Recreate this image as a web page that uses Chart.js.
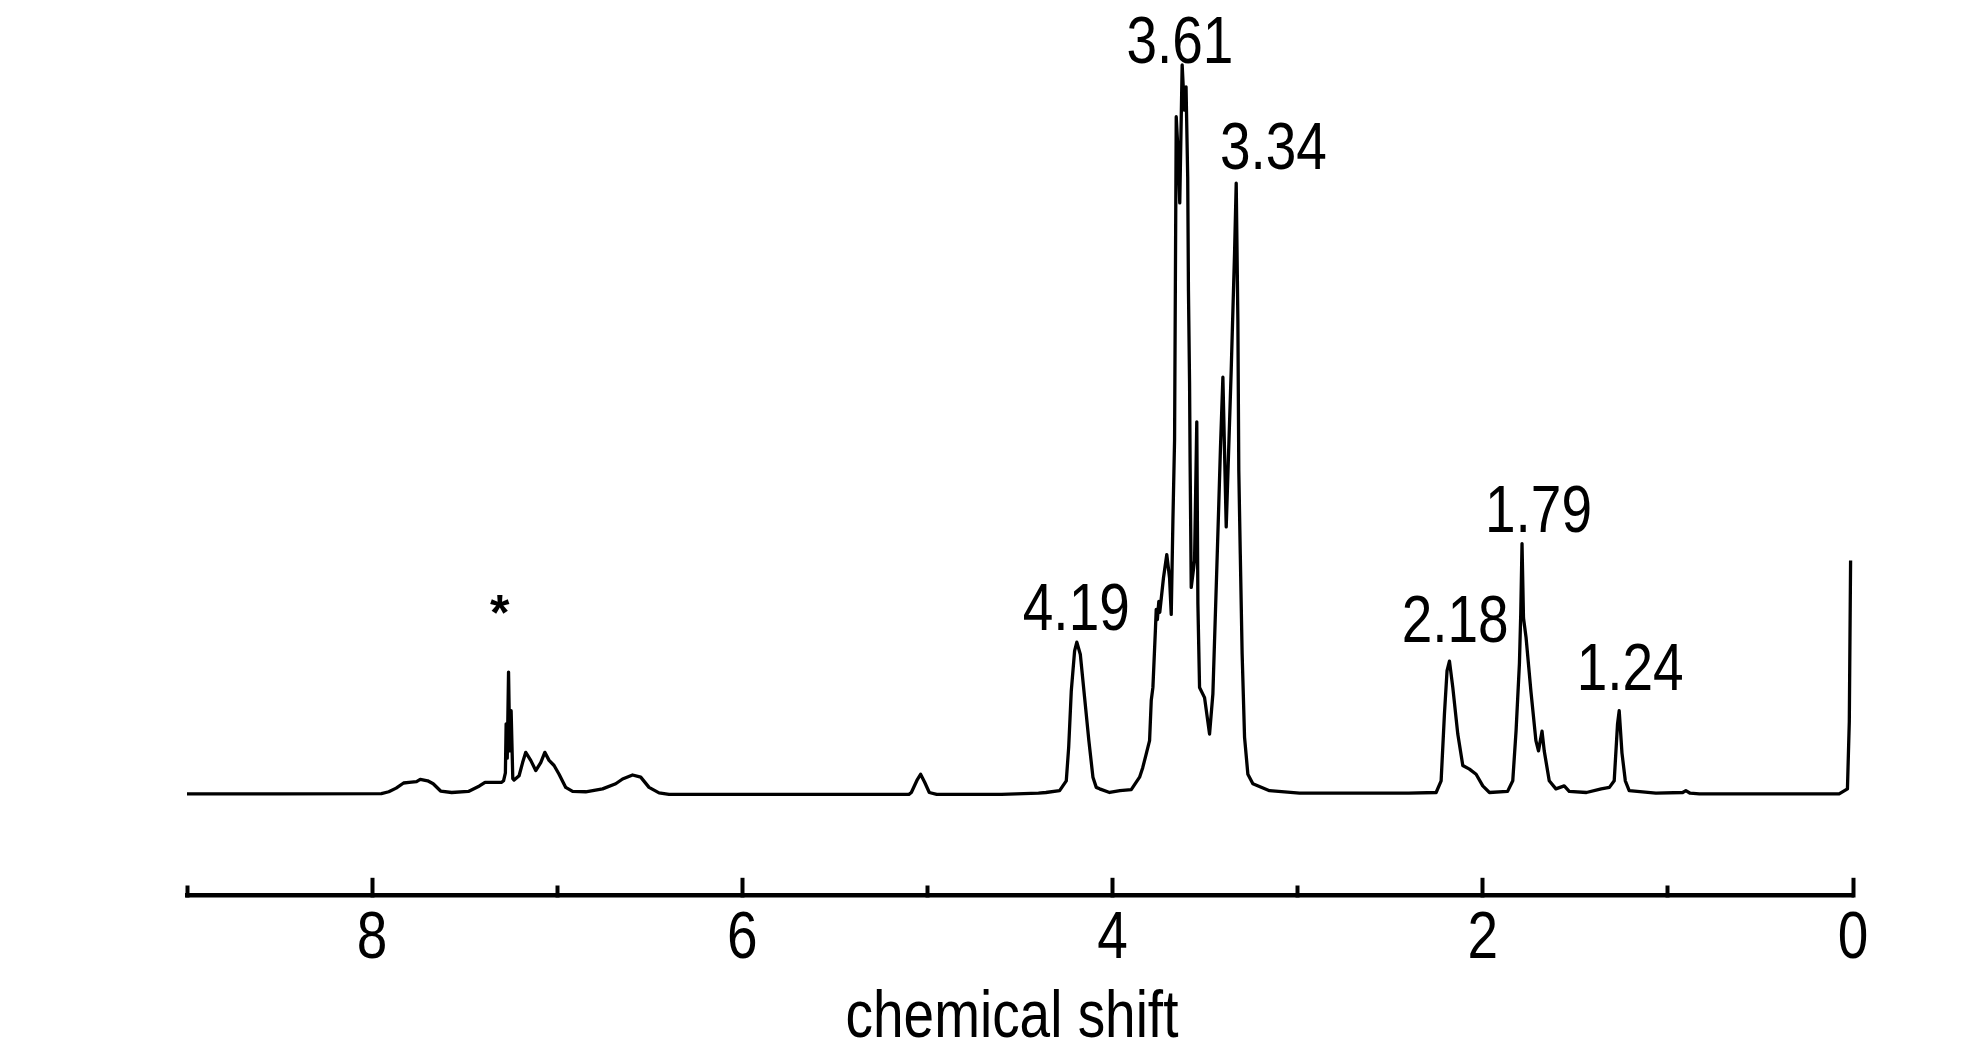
<!DOCTYPE html>
<html>
<head>
<meta charset="utf-8">
<title>1H NMR spectrum</title>
<script src="https://cdn.jsdelivr.net/npm/chart.js@4.4.1/dist/chart.umd.min.js"></script>
<style>
  html, body { margin: 0; padding: 0; background: #fff; }
  #wrap { width: 1984px; height: 1063px; position: relative; }
</style>
</head>
<body>
<div id="wrap"><canvas id="nmrChart"></canvas></div>
<script>
// chemical shift (ppm), left to right as drawn (x axis is reversed)
const shiftPpm = [
  9.00, 8.50, 7.95, 7.91, 7.87, 7.83, 7.80, 7.76, 7.74, 7.70, 7.67, 7.63, 7.57, 7.48, 7.42, 7.39, 7.30,
  7.290, 7.280, 7.276, 7.270, 7.263, 7.256, 7.249, 7.240, 7.233, 7.206, 7.187, 7.170, 7.143, 7.116,
  7.089, 7.067, 7.044, 7.017, 6.990, 6.954, 6.917, 6.846, 6.755, 6.684, 6.647, 6.593, 6.549, 6.504,
  6.450, 6.396, 6.00, 5.50, 5.10,
  5.087, 5.057, 5.037, 5.015, 4.990, 4.95, 4.60, 4.40, 4.36,
  4.286, 4.250, 4.237, 4.223, 4.205, 4.193, 4.174, 4.151, 4.128, 4.106, 4.088, 4.070, 4.016,
  3.960, 3.899, 3.854, 3.837, 3.818, 3.800, 3.791, 3.782, 3.768, 3.764, 3.758, 3.750, 3.745,
  3.725, 3.707, 3.692, 3.683, 3.674, 3.665, 3.656, 3.644, 3.637, 3.624, 3.612, 3.603, 3.594,
  3.590, 3.584, 3.581, 3.575, 3.557, 3.545, 3.539, 3.530, 3.503, 3.476, 3.458, 3.440, 3.426,
  3.417, 3.404, 3.386, 3.359, 3.341, 3.332, 3.323, 3.318, 3.310, 3.300, 3.287, 3.269, 3.242,
  3.152, 2.990, 2.70, 2.40, 2.252, 2.225, 2.207, 2.193, 2.180, 2.162, 2.135, 2.108, 2.072,
  2.036, 2.000, 1.964, 1.866, 1.838, 1.820, 1.802, 1.795, 1.788, 1.780, 1.766, 1.740, 1.713,
  1.699, 1.680, 1.668, 1.641, 1.605, 1.560, 1.533, 1.440, 1.360, 1.316, 1.290, 1.272, 1.263,
  1.248, 1.230, 1.209, 1.065, 0.920, 0.903, 0.880, 0.830, 0.075, 0.030, 0.020, 0.013
];
const intensity = [
  0.1, 0.1, 0.15, 0.4, 0.9, 1.6, 1.7, 1.8, 2.1, 1.9, 1.5, 0.5, 0.3, 0.45, 1.2, 1.7, 1.7,
  1.9, 3.0, 9.7, 5.0, 16.8, 6.0, 11.5, 2.2, 2.0, 2.6, 4.4, 5.8, 4.7, 3.3,
  4.4, 5.8, 4.7, 4.0, 2.8, 1.0, 0.45, 0.4, 0.8, 1.5, 2.15, 2.7, 2.4, 1.0,
  0.25, 0.05, 0.05, 0.05, 0.05,
  0.3, 1.95, 2.8, 1.7, 0.3, 0.05, 0.05, 0.2, 0.3,
  0.55, 1.9, 6.5, 14.2, 19.7, 20.9, 19.2, 13.3, 7.4, 2.4, 1.0, 0.8, 0.3,
  0.55, 0.7, 2.4, 3.7, 5.6, 7.4, 12.9, 14.7, 22.9, 25.4, 24.0, 26.5, 25.0,
  29.7, 32.9, 29.7, 24.7, 37.5, 48.6, 92.9, 87.0, 81.1, 100.0, 93.8, 97.0, 84.6,
  69.1, 56.4, 45.4, 28.4, 32.1, 51.1, 26.2, 14.7, 13.3, 8.3, 13.8, 28.4, 39.9,
  47.6, 57.2, 36.7, 58.2, 74.2, 83.8, 65.0, 44.4, 33.0, 19.3, 7.9, 2.8, 1.5,
  0.55, 0.2, 0.2, 0.2, 0.3, 1.9, 11.1, 17.0, 18.3, 14.7, 8.3, 4.0, 3.5,
  2.8, 1.2, 0.3, 0.45, 1.9, 8.8, 18.0, 24.7, 34.4, 24.2, 21.5, 14.2, 7.4,
  6.0, 8.7, 6.0, 1.9, 0.8, 1.2, 0.45, 0.3, 0.8, 1.0, 1.9, 9.7, 11.5,
  5.7, 1.9, 0.55, 0.2, 0.3, 0.55, 0.2, 0.1, 0.1, 0.8, 10.0, 32.1
];

// peak annotations, anchored at (ppm, intensity) = text baseline centre
const peakLabels = ['*', '4.19', '3.61', '3.34', '2.18', '1.79', '1.24'];
const peakLabelPpm = [7.310, 4.196, 3.636, 3.131, 2.149, 1.699, 1.204];
const peakLabelHeight = [22.6, 22.5, 100.2, 85.7, 20.9, 36.0, 14.4];

const majorTickValues = [0, 2, 4, 6, 8];
const axisTitle = 'chemical shift';

// the original lettering is a narrow sans; no narrow face is installed, so squeeze Liberation Sans
const FONT = "'Liberation Sans', Arial, sans-serif";
const TEXT_FONT = '67px ' + FONT;
const SQUEEZE = 0.82;

function drawNarrow(ctx, text, x, y) {
  ctx.save();
  ctx.translate(x, y);
  ctx.scale(SQUEEZE, 1);
  ctx.fillText(text, 0, 0);
  ctx.restore();
}

const textPlugin = {
  id: 'nmrText',
  afterDraw(chart) {
    const { ctx, chartArea, scales: { x, y } } = chart;
    ctx.save();
    ctx.fillStyle = '#000';
    ctx.textAlign = 'center';
    ctx.textBaseline = 'alphabetic';

    // peak labels
    peakLabels.forEach((txt, i) => {
      const px = x.getPixelForValue(peakLabelPpm[i]);
      const py = y.getPixelForValue(peakLabelHeight[i]);
      if (txt === '*') {
        ctx.font = "bold 50px " + FONT;
        ctx.fillText(txt, px, py);
      } else {
        ctx.font = TEXT_FONT;
        drawNarrow(ctx, txt, px, py);
      }
    });

    // tick labels and axis title
    ctx.font = TEXT_FONT;
    majorTickValues.forEach(v => drawNarrow(ctx, String(v), x.getPixelForValue(v), x.top + 63));
    drawNarrow(ctx, axisTitle, (chartArea.left + chartArea.right) / 2 - 8, x.top + 142);
    ctx.restore();
  }
};

const points = shiftPpm.map((p, i) => ({ x: p, y: intensity[i] }));

new Chart(document.getElementById('nmrChart'), {
  type: 'line',
  data: {
    datasets: [{
      label: '1H NMR',
      data: points,
      borderColor: '#000',
      borderWidth: 3.3,
      borderJoinStyle: 'round',
      pointRadius: 0,
      tension: 0,
      fill: false
    }]
  },
  options: {
    responsive: true,
    maintainAspectRatio: false,
    animation: false,
    events: [],
    layout: { padding: { left: 187, right: 131, top: 0, bottom: 30 } },
    plugins: {
      legend: { display: false },
      tooltip: { enabled: false }
    },
    scales: {
      x: {
        type: 'linear',
        reverse: true,
        min: 0,
        max: 9,
        border: { display: true, color: '#000', width: 4.5 },
        grid: {
          drawOnChartArea: false,
          drawTicks: true,
          tickLength: -17,
          tickColor: '#000',
          tickWidth: 4,
          // minor ticks are shorter: only the first part of the line is drawn
          tickBorderDash: ctx => (majorTickValues.includes(ctx.tick.value) ? [] : [12, 200])
        },
        ticks: {
          // labels are painted by nmrText (narrow lettering); kept here for layout only
          stepSize: 1,
          autoSkip: false,
          maxRotation: 0,
          padding: 23,
          color: 'rgba(0,0,0,0)',
          font: { family: FONT, size: 67, lineHeight: 1 },
          callback: v => (majorTickValues.includes(v) ? String(v) : '')
        },
        title: {
          display: true,
          text: axisTitle,
          color: 'rgba(0,0,0,0)',
          font: { family: FONT, size: 67, lineHeight: 0.6 },
          padding: { top: 2, bottom: 0 }
        }
      },
      y: {
        display: false,
        min: -13.72,
        max: 108.9
      }
    }
  },
  plugins: [textPlugin]
});
</script>
</body>
</html>
